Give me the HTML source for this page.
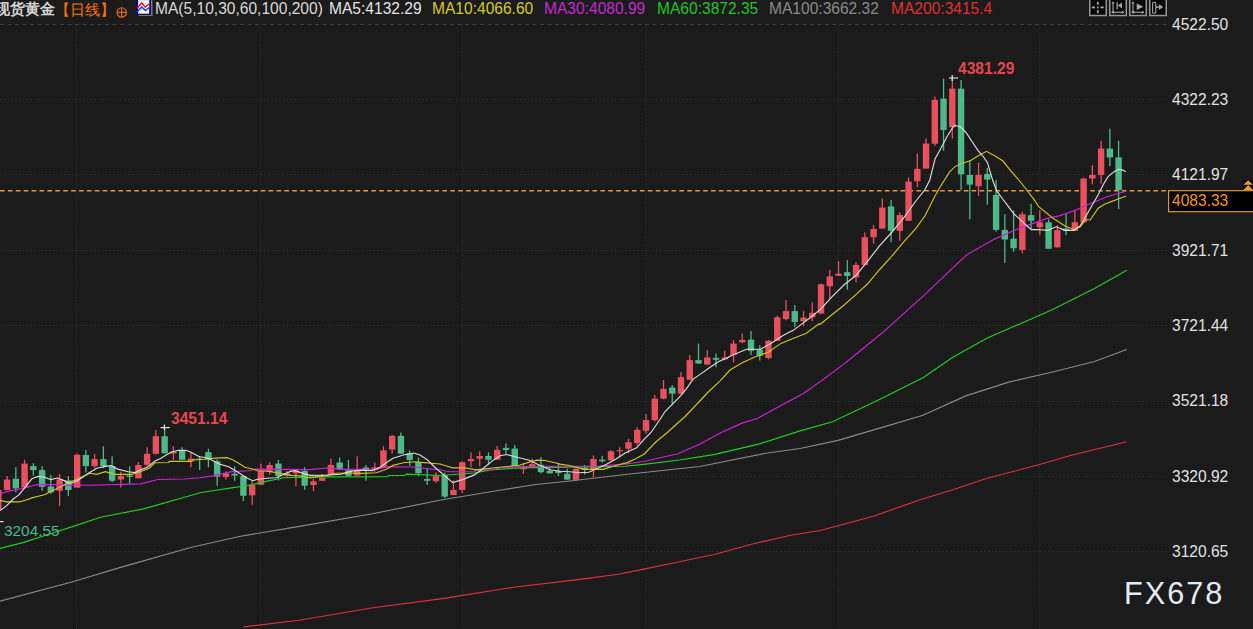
<!DOCTYPE html>
<html><head><meta charset="utf-8"><style>
html,body{margin:0;padding:0;background:#1b1b1b;width:1253px;height:629px;overflow:hidden}
body{position:relative;font-family:"Liberation Sans",sans-serif}
.t{position:absolute;white-space:nowrap;line-height:1}
</style></head><body>
<svg width="1253" height="629" viewBox="0 0 1253 629" style="position:absolute;left:0;top:0"><line x1="0" y1="24.5" x2="1167" y2="24.5" stroke="#3c3c3c" stroke-width="1" stroke-dasharray="4 3.5"/><line x1="0" y1="99.5" x2="1167" y2="99.5" stroke="#2e2e2e" stroke-width="1" stroke-dasharray="1.6 2.17"/><line x1="0" y1="174.5" x2="1167" y2="174.5" stroke="#2e2e2e" stroke-width="1" stroke-dasharray="1.6 2.17"/><line x1="0" y1="250.5" x2="1167" y2="250.5" stroke="#2e2e2e" stroke-width="1" stroke-dasharray="1.6 2.17"/><line x1="0" y1="325.5" x2="1167" y2="325.5" stroke="#2e2e2e" stroke-width="1" stroke-dasharray="1.6 2.17"/><line x1="0" y1="401.5" x2="1167" y2="401.5" stroke="#2e2e2e" stroke-width="1" stroke-dasharray="1.6 2.17"/><line x1="0" y1="476.5" x2="1167" y2="476.5" stroke="#2e2e2e" stroke-width="1" stroke-dasharray="1.6 2.17"/><line x1="0" y1="551.5" x2="1167" y2="551.5" stroke="#2e2e2e" stroke-width="1" stroke-dasharray="1.6 2.17"/><line x1="76.5" y1="25" x2="76.5" y2="629" stroke="#2c2c2c" stroke-width="1" stroke-dasharray="1.6 2.17"/><line x1="260.5" y1="25" x2="260.5" y2="629" stroke="#2c2c2c" stroke-width="1" stroke-dasharray="1.6 2.17"/><line x1="462.5" y1="25" x2="462.5" y2="629" stroke="#2c2c2c" stroke-width="1" stroke-dasharray="1.6 2.17"/><line x1="646" y1="25" x2="646" y2="629" stroke="#2c2c2c" stroke-width="1" stroke-dasharray="1.6 2.17"/><line x1="838.5" y1="25" x2="838.5" y2="629" stroke="#2c2c2c" stroke-width="1" stroke-dasharray="1.6 2.17"/><line x1="1039.5" y1="25" x2="1039.5" y2="629" stroke="#2c2c2c" stroke-width="1" stroke-dasharray="1.6 2.17"/><line x1="0" y1="190.7" x2="1168" y2="190.7" stroke="#f0962a" stroke-width="1.6" stroke-dasharray="4.6 3.3"/><rect x="-2.3" y="490" width="1.3" height="21" fill="#e9505e"/><rect x="-4.85" y="490" width="6.4" height="20" fill="#e9505e"/><rect x="6.45" y="476" width="1.3" height="14" fill="#e9505e"/><rect x="3.9" y="479.6" width="6.4" height="10.4" fill="#e9505e"/><rect x="15.2" y="467.2" width="1.3" height="25.1" fill="#4db889"/><rect x="12.65" y="478.8" width="6.4" height="9.6" fill="#4db889"/><rect x="23.95" y="459.8" width="1.3" height="29.4" fill="#e9505e"/><rect x="21.4" y="463.7" width="6.4" height="23.9" fill="#e9505e"/><rect x="32.71" y="463.2" width="1.3" height="12.5" fill="#4db889"/><rect x="30.16" y="466.1" width="6.4" height="4" fill="#4db889"/><rect x="41.46" y="466.1" width="1.3" height="24.7" fill="#4db889"/><rect x="38.91" y="470.1" width="6.4" height="16.7" fill="#4db889"/><rect x="50.21" y="474.9" width="1.3" height="19" fill="#4db889"/><rect x="47.66" y="486.5" width="6.4" height="5.8" fill="#4db889"/><rect x="58.96" y="474" width="1.3" height="31.9" fill="#e9505e"/><rect x="56.41" y="479.6" width="6.4" height="11.2" fill="#e9505e"/><rect x="67.71" y="476" width="1.3" height="20" fill="#4db889"/><rect x="65.16" y="480.4" width="6.4" height="9.6" fill="#4db889"/><rect x="76.47" y="453.4" width="1.3" height="34.2" fill="#e9505e"/><rect x="73.92" y="454.7" width="6.4" height="32.9" fill="#e9505e"/><rect x="85.22" y="449.9" width="1.3" height="22.6" fill="#4db889"/><rect x="82.67" y="455" width="6.4" height="11.1" fill="#4db889"/><rect x="93.97" y="453.8" width="1.3" height="14.4" fill="#e9505e"/><rect x="91.42" y="459.1" width="6.4" height="7" fill="#e9505e"/><rect x="102.72" y="446.3" width="1.3" height="21.9" fill="#4db889"/><rect x="100.17" y="459.1" width="6.4" height="7" fill="#4db889"/><rect x="111.47" y="456.3" width="1.3" height="25.9" fill="#4db889"/><rect x="108.92" y="466.1" width="6.4" height="14.7" fill="#4db889"/><rect x="120.23" y="471.7" width="1.3" height="15.7" fill="#e9505e"/><rect x="117.68" y="476" width="6.4" height="3.5" fill="#e9505e"/><rect x="128.98" y="466.4" width="1.3" height="17.2" fill="#4db889"/><rect x="126.43" y="475.5" width="6.4" height="1.4" fill="#4db889"/><rect x="137.73" y="462" width="1.3" height="16.3" fill="#e9505e"/><rect x="135.18" y="465" width="6.4" height="13.3" fill="#e9505e"/><rect x="146.48" y="447.2" width="1.3" height="19.2" fill="#e9505e"/><rect x="143.93" y="453.8" width="6.4" height="10.9" fill="#e9505e"/><rect x="155.23" y="430.1" width="1.3" height="24.4" fill="#e9505e"/><rect x="152.68" y="436.2" width="6.4" height="17.6" fill="#e9505e"/><rect x="163.99" y="427.1" width="1.3" height="26.2" fill="#4db889"/><rect x="161.44" y="436.2" width="6.4" height="17.1" fill="#4db889"/><rect x="172.74" y="446.1" width="1.3" height="13.7" fill="#e9505e"/><rect x="170.19" y="451.5" width="6.4" height="2" fill="#e9505e"/><rect x="181.49" y="447.2" width="1.3" height="13.1" fill="#4db889"/><rect x="178.94" y="450.7" width="6.4" height="9.1" fill="#4db889"/><rect x="190.24" y="452.4" width="1.3" height="14.9" fill="#e9505e"/><rect x="187.69" y="458.6" width="6.4" height="2.9" fill="#e9505e"/><rect x="198.99" y="456" width="1.3" height="14" fill="#4db889"/><rect x="196.44" y="458.6" width="6.4" height="1.2" fill="#4db889"/><rect x="207.75" y="448.6" width="1.3" height="18.7" fill="#4db889"/><rect x="205.2" y="452.1" width="6.4" height="7.3" fill="#4db889"/><rect x="216.5" y="459.4" width="1.3" height="26.3" fill="#4db889"/><rect x="213.95" y="461.2" width="6.4" height="15.4" fill="#4db889"/><rect x="225.25" y="471.3" width="1.3" height="8.2" fill="#e9505e"/><rect x="222.7" y="473.4" width="6.4" height="3.5" fill="#e9505e"/><rect x="234" y="466.4" width="1.3" height="14.4" fill="#4db889"/><rect x="231.45" y="473.8" width="6.4" height="1.7" fill="#4db889"/><rect x="242.75" y="475.2" width="1.3" height="25.8" fill="#4db889"/><rect x="240.2" y="476" width="6.4" height="19.8" fill="#4db889"/><rect x="251.51" y="480.8" width="1.3" height="24.1" fill="#e9505e"/><rect x="248.96" y="484.8" width="6.4" height="10.5" fill="#e9505e"/><rect x="260.26" y="463.7" width="1.3" height="21.1" fill="#e9505e"/><rect x="257.71" y="470.8" width="6.4" height="14" fill="#e9505e"/><rect x="269.01" y="462.5" width="1.3" height="12.1" fill="#e9505e"/><rect x="266.46" y="465" width="6.4" height="5.9" fill="#e9505e"/><rect x="277.76" y="459.9" width="1.3" height="20.6" fill="#4db889"/><rect x="275.21" y="463.6" width="6.4" height="12.5" fill="#4db889"/><rect x="286.51" y="470.9" width="1.3" height="5.9" fill="#e9505e"/><rect x="283.96" y="473.4" width="6.4" height="2.4" fill="#e9505e"/><rect x="295.27" y="470.2" width="1.3" height="16.2" fill="#e9505e"/><rect x="292.72" y="470.9" width="6.4" height="2.5" fill="#e9505e"/><rect x="304.02" y="467.2" width="1.3" height="22.5" fill="#4db889"/><rect x="301.47" y="470.9" width="6.4" height="14.8" fill="#4db889"/><rect x="312.77" y="479" width="1.3" height="12.2" fill="#e9505e"/><rect x="310.22" y="481.3" width="6.4" height="3.7" fill="#e9505e"/><rect x="321.52" y="473.9" width="1.3" height="6.9" fill="#e9505e"/><rect x="318.97" y="477.9" width="6.4" height="2.9" fill="#e9505e"/><rect x="330.27" y="458.7" width="1.3" height="16.7" fill="#e9505e"/><rect x="327.72" y="465" width="6.4" height="9.6" fill="#e9505e"/><rect x="339.03" y="457.6" width="1.3" height="12.6" fill="#4db889"/><rect x="336.48" y="462.5" width="6.4" height="7" fill="#4db889"/><rect x="347.78" y="459.9" width="1.3" height="16.2" fill="#4db889"/><rect x="345.23" y="470.2" width="6.4" height="5.6" fill="#4db889"/><rect x="356.53" y="456.2" width="1.3" height="19.6" fill="#e9505e"/><rect x="353.98" y="470.2" width="6.4" height="5.2" fill="#e9505e"/><rect x="365.28" y="465" width="1.3" height="15.8" fill="#4db889"/><rect x="362.73" y="467.5" width="6.4" height="3.4" fill="#4db889"/><rect x="374.03" y="462.5" width="1.3" height="9.2" fill="#e9505e"/><rect x="371.48" y="467.5" width="6.4" height="2.7" fill="#e9505e"/><rect x="382.79" y="446.3" width="1.3" height="21.7" fill="#e9505e"/><rect x="380.24" y="450.3" width="6.4" height="17.7" fill="#e9505e"/><rect x="391.54" y="434.8" width="1.3" height="18.9" fill="#e9505e"/><rect x="388.99" y="435.9" width="6.4" height="13.6" fill="#e9505e"/><rect x="400.29" y="432.5" width="1.3" height="21.2" fill="#4db889"/><rect x="397.74" y="435.9" width="6.4" height="17.8" fill="#4db889"/><rect x="409.04" y="450.3" width="1.3" height="15.5" fill="#4db889"/><rect x="406.49" y="453.2" width="6.4" height="6.7" fill="#4db889"/><rect x="417.79" y="457.6" width="1.3" height="18.5" fill="#4db889"/><rect x="415.24" y="462.1" width="6.4" height="11.1" fill="#4db889"/><rect x="426.55" y="468.7" width="1.3" height="16.3" fill="#4db889"/><rect x="424" y="479" width="6.4" height="1.8" fill="#4db889"/><rect x="435.3" y="472.4" width="1.3" height="10.3" fill="#e9505e"/><rect x="432.75" y="476.1" width="6.4" height="5.2" fill="#e9505e"/><rect x="444.05" y="472.5" width="1.3" height="25.6" fill="#4db889"/><rect x="441.5" y="475.2" width="6.4" height="21.4" fill="#4db889"/><rect x="452.8" y="480.4" width="1.3" height="14.7" fill="#e9505e"/><rect x="450.25" y="490" width="6.4" height="5.1" fill="#e9505e"/><rect x="461.55" y="461.2" width="1.3" height="31.7" fill="#e9505e"/><rect x="459" y="462.2" width="6.4" height="27.8" fill="#e9505e"/><rect x="470.31" y="452.3" width="1.3" height="14.8" fill="#e9505e"/><rect x="467.76" y="459" width="6.4" height="2.2" fill="#e9505e"/><rect x="479.06" y="451.3" width="1.3" height="15" fill="#e9505e"/><rect x="476.51" y="456" width="6.4" height="2.7" fill="#e9505e"/><rect x="487.81" y="452.3" width="1.3" height="12.6" fill="#4db889"/><rect x="485.26" y="456" width="6.4" height="3.7" fill="#4db889"/><rect x="496.56" y="446" width="1.3" height="13.7" fill="#e9505e"/><rect x="494.01" y="449.8" width="6.4" height="9.9" fill="#e9505e"/><rect x="505.31" y="443.5" width="1.3" height="10.3" fill="#4db889"/><rect x="502.76" y="447.9" width="6.4" height="2.2" fill="#4db889"/><rect x="514.07" y="444.9" width="1.3" height="21.1" fill="#4db889"/><rect x="511.52" y="448.6" width="6.4" height="17.4" fill="#4db889"/><rect x="522.82" y="462.6" width="1.3" height="11.1" fill="#e9505e"/><rect x="520.27" y="467.8" width="6.4" height="1.5" fill="#e9505e"/><rect x="531.57" y="458.7" width="1.3" height="7.6" fill="#e9505e"/><rect x="529.02" y="464.1" width="6.4" height="2.2" fill="#e9505e"/><rect x="540.32" y="457.2" width="1.3" height="16.2" fill="#4db889"/><rect x="537.77" y="464.9" width="6.4" height="7.3" fill="#4db889"/><rect x="549.07" y="467.8" width="1.3" height="5.6" fill="#4db889"/><rect x="546.52" y="470.8" width="6.4" height="2.6" fill="#4db889"/><rect x="557.83" y="463.4" width="1.3" height="12.5" fill="#4db889"/><rect x="555.28" y="470.8" width="6.4" height="2.2" fill="#4db889"/><rect x="566.58" y="468.6" width="1.3" height="11" fill="#4db889"/><rect x="564.03" y="473.7" width="6.4" height="5.9" fill="#4db889"/><rect x="575.33" y="467.8" width="1.3" height="13.3" fill="#e9505e"/><rect x="572.78" y="469" width="6.4" height="10.9" fill="#e9505e"/><rect x="584.08" y="464.9" width="1.3" height="9.6" fill="#4db889"/><rect x="581.53" y="467.8" width="6.4" height="2.2" fill="#4db889"/><rect x="592.83" y="455.3" width="1.3" height="22.1" fill="#e9505e"/><rect x="590.28" y="459" width="6.4" height="11" fill="#e9505e"/><rect x="601.59" y="456" width="1.3" height="6.6" fill="#4db889"/><rect x="599.04" y="459.7" width="6.4" height="1.5" fill="#4db889"/><rect x="610.34" y="450.1" width="1.3" height="10.3" fill="#e9505e"/><rect x="607.79" y="451.3" width="6.4" height="9.1" fill="#e9505e"/><rect x="619.09" y="447.2" width="1.3" height="10.1" fill="#e9505e"/><rect x="616.54" y="450.1" width="6.4" height="1.2" fill="#e9505e"/><rect x="627.84" y="438.7" width="1.3" height="14.3" fill="#e9505e"/><rect x="625.29" y="442.2" width="6.4" height="6.5" fill="#e9505e"/><rect x="636.59" y="427.2" width="1.3" height="18.3" fill="#e9505e"/><rect x="634.04" y="429.8" width="6.4" height="13.1" fill="#e9505e"/><rect x="645.35" y="414" width="1.3" height="19.6" fill="#e9505e"/><rect x="642.8" y="420.1" width="6.4" height="10.7" fill="#e9505e"/><rect x="654.1" y="395" width="1.3" height="26.5" fill="#e9505e"/><rect x="651.55" y="398.6" width="6.4" height="21.5" fill="#e9505e"/><rect x="662.85" y="380.1" width="1.3" height="19.2" fill="#e9505e"/><rect x="660.3" y="388.8" width="6.4" height="9.8" fill="#e9505e"/><rect x="671.6" y="385" width="1.3" height="19.7" fill="#4db889"/><rect x="669.05" y="387.5" width="6.4" height="6.1" fill="#4db889"/><rect x="680.35" y="372.2" width="1.3" height="22.2" fill="#e9505e"/><rect x="677.8" y="377.2" width="6.4" height="16.4" fill="#e9505e"/><rect x="689.11" y="355" width="1.3" height="24.8" fill="#e9505e"/><rect x="686.56" y="360.1" width="6.4" height="19.7" fill="#e9505e"/><rect x="697.86" y="343.6" width="1.3" height="20" fill="#4db889"/><rect x="695.31" y="360.1" width="6.4" height="3.5" fill="#4db889"/><rect x="706.61" y="350" width="1.3" height="14.6" fill="#e9505e"/><rect x="704.06" y="357.5" width="6.4" height="7.1" fill="#e9505e"/><rect x="715.36" y="353.6" width="1.3" height="13.6" fill="#4db889"/><rect x="712.81" y="357.9" width="6.4" height="1.9" fill="#4db889"/><rect x="724.11" y="350.8" width="1.3" height="8.5" fill="#e9505e"/><rect x="721.56" y="357.5" width="6.4" height="1.8" fill="#e9505e"/><rect x="732.87" y="340" width="1.3" height="22.6" fill="#e9505e"/><rect x="730.32" y="343.6" width="6.4" height="11.4" fill="#e9505e"/><rect x="741.62" y="333.6" width="1.3" height="9.6" fill="#e9505e"/><rect x="739.07" y="340" width="6.4" height="2.2" fill="#e9505e"/><rect x="750.37" y="331.1" width="1.3" height="23.9" fill="#4db889"/><rect x="747.82" y="339.7" width="6.4" height="11.1" fill="#4db889"/><rect x="759.12" y="345" width="1.3" height="15.5" fill="#4db889"/><rect x="756.57" y="349.8" width="6.4" height="6" fill="#4db889"/><rect x="767.87" y="339.7" width="1.3" height="19.6" fill="#e9505e"/><rect x="765.32" y="340.8" width="6.4" height="17.3" fill="#e9505e"/><rect x="776.63" y="315.8" width="1.3" height="25" fill="#e9505e"/><rect x="774.08" y="317.2" width="6.4" height="23.6" fill="#e9505e"/><rect x="785.38" y="300" width="1.3" height="20.1" fill="#e9505e"/><rect x="782.83" y="311.1" width="6.4" height="8" fill="#e9505e"/><rect x="794.13" y="305.1" width="1.3" height="22.1" fill="#4db889"/><rect x="791.58" y="311.1" width="6.4" height="10.8" fill="#4db889"/><rect x="802.88" y="311.1" width="1.3" height="14.7" fill="#e9505e"/><rect x="800.33" y="317.6" width="6.4" height="3.5" fill="#e9505e"/><rect x="811.63" y="302.5" width="1.3" height="18.6" fill="#e9505e"/><rect x="809.08" y="312.9" width="6.4" height="4.3" fill="#e9505e"/><rect x="820.39" y="283.6" width="1.3" height="30" fill="#e9505e"/><rect x="817.84" y="284.3" width="6.4" height="29.3" fill="#e9505e"/><rect x="829.14" y="270" width="1.3" height="28.6" fill="#e9505e"/><rect x="826.59" y="276.4" width="6.4" height="9.8" fill="#e9505e"/><rect x="837.89" y="261.1" width="1.3" height="14.7" fill="#e9505e"/><rect x="835.34" y="273.7" width="6.4" height="2.1" fill="#e9505e"/><rect x="846.64" y="260.1" width="1.3" height="29.6" fill="#4db889"/><rect x="844.09" y="272.2" width="6.4" height="3.8" fill="#4db889"/><rect x="855.39" y="262.3" width="1.3" height="20" fill="#e9505e"/><rect x="852.84" y="264.9" width="6.4" height="12.4" fill="#e9505e"/><rect x="864.15" y="232.5" width="1.3" height="32.4" fill="#e9505e"/><rect x="861.6" y="237.2" width="6.4" height="27.7" fill="#e9505e"/><rect x="872.9" y="225" width="1.3" height="18.6" fill="#e9505e"/><rect x="870.35" y="229" width="6.4" height="8.2" fill="#e9505e"/><rect x="881.65" y="198.6" width="1.3" height="30" fill="#e9505e"/><rect x="879.1" y="207.6" width="6.4" height="21" fill="#e9505e"/><rect x="890.4" y="200" width="1.3" height="42.2" fill="#4db889"/><rect x="887.85" y="206.4" width="6.4" height="24.4" fill="#4db889"/><rect x="899.15" y="212.2" width="1.3" height="28.6" fill="#e9505e"/><rect x="896.6" y="215" width="6.4" height="15.8" fill="#e9505e"/><rect x="907.91" y="177.5" width="1.3" height="43.3" fill="#e9505e"/><rect x="905.36" y="181.5" width="6.4" height="39.3" fill="#e9505e"/><rect x="916.66" y="153.6" width="1.3" height="33.6" fill="#e9505e"/><rect x="914.11" y="168.9" width="6.4" height="12.3" fill="#e9505e"/><rect x="925.41" y="138.7" width="1.3" height="29.9" fill="#e9505e"/><rect x="922.86" y="143.6" width="6.4" height="25" fill="#e9505e"/><rect x="934.16" y="96.5" width="1.3" height="49.3" fill="#e9505e"/><rect x="931.61" y="100" width="6.4" height="43.7" fill="#e9505e"/><rect x="942.91" y="78.6" width="1.3" height="72.1" fill="#4db889"/><rect x="940.36" y="98.6" width="6.4" height="31.5" fill="#4db889"/><rect x="951.67" y="78.6" width="1.3" height="60.1" fill="#e9505e"/><rect x="949.12" y="88.6" width="6.4" height="38.6" fill="#e9505e"/><rect x="960.42" y="80" width="1.3" height="110" fill="#4db889"/><rect x="957.87" y="88.6" width="6.4" height="85.7" fill="#4db889"/><rect x="969.17" y="160" width="1.3" height="59.4" fill="#4db889"/><rect x="966.62" y="175" width="6.4" height="9.6" fill="#4db889"/><rect x="977.92" y="162.6" width="1.3" height="33.2" fill="#e9505e"/><rect x="975.37" y="174.9" width="6.4" height="11.3" fill="#e9505e"/><rect x="986.67" y="167.9" width="1.3" height="36.7" fill="#4db889"/><rect x="984.12" y="174" width="6.4" height="5.6" fill="#4db889"/><rect x="995.43" y="180.1" width="1.3" height="51.6" fill="#4db889"/><rect x="992.88" y="195" width="6.4" height="34.9" fill="#4db889"/><rect x="1004.18" y="214.2" width="1.3" height="48.9" fill="#4db889"/><rect x="1001.63" y="229.9" width="6.4" height="9.6" fill="#4db889"/><rect x="1012.93" y="210.7" width="1.3" height="41.1" fill="#4db889"/><rect x="1010.38" y="238.7" width="6.4" height="9.6" fill="#4db889"/><rect x="1021.68" y="211.6" width="1.3" height="41.9" fill="#e9505e"/><rect x="1019.13" y="214.2" width="6.4" height="35.8" fill="#e9505e"/><rect x="1030.43" y="203.7" width="1.3" height="25.4" fill="#4db889"/><rect x="1027.88" y="215.1" width="6.4" height="5.7" fill="#4db889"/><rect x="1039.19" y="210.1" width="1.3" height="25.1" fill="#e9505e"/><rect x="1036.64" y="222.3" width="6.4" height="5" fill="#e9505e"/><rect x="1047.94" y="219.4" width="1.3" height="29.4" fill="#4db889"/><rect x="1045.39" y="222.3" width="6.4" height="26.5" fill="#4db889"/><rect x="1056.69" y="225.2" width="1.3" height="22.2" fill="#e9505e"/><rect x="1054.14" y="230.2" width="6.4" height="17.2" fill="#e9505e"/><rect x="1065.44" y="213" width="1.3" height="22.2" fill="#4db889"/><rect x="1062.89" y="228.5" width="6.4" height="2.4" fill="#4db889"/><rect x="1074.19" y="210.1" width="1.3" height="20.8" fill="#e9505e"/><rect x="1071.64" y="222.3" width="6.4" height="8.6" fill="#e9505e"/><rect x="1082.95" y="177.4" width="1.3" height="44.9" fill="#e9505e"/><rect x="1080.4" y="178.6" width="6.4" height="43.7" fill="#e9505e"/><rect x="1091.7" y="165.3" width="1.3" height="19.1" fill="#e9505e"/><rect x="1089.15" y="175" width="6.4" height="3.5" fill="#e9505e"/><rect x="1100.45" y="140.7" width="1.3" height="42.9" fill="#e9505e"/><rect x="1097.9" y="148.6" width="6.4" height="26.3" fill="#e9505e"/><rect x="1109.2" y="128.7" width="1.3" height="37.4" fill="#4db889"/><rect x="1106.65" y="148.6" width="6.4" height="8.8" fill="#4db889"/><rect x="1117.95" y="140.7" width="1.3" height="68.3" fill="#4db889"/><rect x="1115.4" y="157.4" width="6.4" height="32.6" fill="#4db889"/><polyline points="243,627 299.3,620.2 371.2,608 442.3,598.6 513.5,587.2 580,579.4 618.3,574.2 645.1,568.9 675.8,562.5 714.1,554.5 752.4,544 790.7,535.3 820,530.5 838,525.8 873.3,516.3 919.4,500 952,490 987.2,478.3 1038.8,464.8 1071.4,455.3 1126.7,441.8" fill="none" stroke="#e03434" stroke-width="1.15"/><polyline points="0,601.1 71.8,582 119.7,567.6 191.5,547.2 239.4,536.5 299.3,526.4 371.2,514 442.3,499.8 501.3,490 535.8,484.5 567.7,481.3 600,477.5 625,474.5 699.7,466.5 766,453.2 800,448.5 838,440.4 881.4,427.6 922.9,415.2 965.8,395.9 1008.7,382.1 1051.6,372.3 1094.5,361.5 1126.7,349.5" fill="none" stroke="#8a8a8a" stroke-width="1.15"/><polyline points="0,548.4 23.9,542.4 47.9,534.5 71.8,526.9 100.5,517.3 143.6,508.9 191.5,495.3 200,492.7 212.5,490.8 231.6,487.9 247.9,485.5 262.3,482.1 276.6,479.3 283.3,477.8 320,476.9 386.8,476.8 388.9,475.5 404.4,475.5 406.5,474.2 440,475.5 457.9,474.3 474.5,473 483.4,471.1 492.4,469.8 501.3,469.2 519.2,467.9 600,466.6 625,466.3 643.6,464.4 679.7,460 715,454.4 759.5,443.9 800,430.9 832.6,421.7 880,399.3 922.9,377.8 952.9,357.3 987.3,338 1051.6,310 1094.5,288.6 1126.7,270.2" fill="none" stroke="#20d020" stroke-width="1.15"/><polyline points="0,494 6.4,491.6 19.1,489.2 31.8,486 38.2,484.4 90,485.2 140.4,483.9 157.9,479.5 184.2,479 200,477.8 212.5,475.9 231.6,471.6 247.9,470.7 256.5,469.2 310,469.6 326.6,468 344.2,469.4 377.4,469.1 387.8,466.8 413.8,467 431.4,469.1 440,469.8 448.9,471.7 474.5,471.7 475.8,470.4 492.4,469.8 500,467.9 519.2,466.6 600,466 625,464.1 643.6,461.5 677.9,453.7 700,444 720.7,432.7 741.3,423.4 757.9,418.2 778.6,406.8 803.4,393.4 824,378.9 844.7,363.4 860,351 884,331.4 925.3,294.2 960,261.2 967,254.6 994.1,239.2 1021.1,227.6 1048.1,218.1 1060,215.6 1075.9,210 1091.8,203 1107.7,196.5 1126,191.2" fill="none" stroke="#d41ee0" stroke-width="1.15"/><polyline points="0,500.3 6.4,501.9 19.1,501.9 25.4,500.3 31.8,497.9 38.2,496.3 44.5,494.7 50.9,491.6 57.2,488.4 63.6,485.2 70,482 76.3,479.6 82.7,476.4 90,473.3 96.7,474.3 105.5,471.7 114.2,474.3 131.7,474.3 140.4,471.7 149.2,468.2 155,462.8 168.9,462.5 169.1,461.4 191.2,461.4 192.8,460 204,459.2 215,458.1 226.8,457.7 231.6,459.2 238.3,463 245,467.3 253.6,469.2 257.5,470.7 267,471.1 273.8,472.1 281.4,473.5 291,475.4 299.6,475.9 310,477.9 325.6,475.8 335.9,473.2 351.5,473 361.9,473.4 376.4,472.7 386.8,469 393,465.4 403.4,462.8 413.8,461.8 424.1,462.6 440,464 446.4,466 452.8,467.9 465.5,467.9 475.8,469.8 500,467.2 519.2,465.3 529.4,462.1 537.1,460.2 544.7,460.5 555,462.8 560,464.1 569.6,465.5 584,469.3 603.1,469.3 617.5,465 627.1,462.6 636.6,458.3 644.3,454 655.8,442 667.3,432.5 680,421 685.1,416.5 700.8,400 707.2,393 720.1,380.8 730,370 742.7,362.5 755.4,356.8 768.2,352.3 780.9,343.4 793.6,338.3 806.3,333.3 819.1,323.7 820,324.4 831.9,314.8 843.9,305.3 855.8,294.6 867.7,283.8 879.7,269.5 891.6,256.4 903.5,242.1 915.5,228.9 925,215.8 934.6,196.7 940,187.2 949.4,172.2 955,166.6 960.7,163.7 970.3,160.8 977.9,156 986.5,151.3 995.1,156 1002.7,160.8 1010.4,170.4 1018,179 1025.6,188.5 1035,200.9 1038.7,206.7 1047.5,213.7 1052.7,218.1 1065,226 1073.7,229.5 1080,227 1086,219.5 1090.2,220 1098.2,208.2 1104.5,204.3 1112.5,201.1 1118.8,198.7 1126,196.3" fill="none" stroke="#cdc41e" stroke-width="1.15"/><polyline points="0,510.6 6.4,505.9 12.7,499.5 19.1,494.7 25.4,486.8 31.8,478.8 38.2,476.4 44.5,477.2 50.9,479.6 57.2,478 63.6,480.4 70,483.6 76.3,481.2 82.7,477.2 88,473.4 96.7,468.2 105.5,466.4 110.7,465.6 117.7,469.1 128.2,471.7 135.2,472.6 140.4,469.9 147.4,467.3 155,461.1 160.6,458.4 166.1,455 171.7,452 178.4,450.3 185.6,450.3 190.6,452 195.1,454.5 199.5,456.7 204,457.3 210.1,459.2 215,461.7 219.2,464 228.7,466.8 238.3,472.6 246,477.4 252.7,480.7 257.5,479.3 267,478.3 276.6,477.8 283.3,474.5 291,471.1 295.8,470.7 300.6,472.6 310.2,475.4 325.6,475.3 341.1,474.2 351.5,471.1 361.9,470.1 372.3,470.6 380.6,467 387.8,461.8 393,458.2 403.4,455 413.8,453 420,455 427.2,459.7 434.5,467 440,471.7 452.8,482.6 463,479.4 474.5,474.9 482.1,469.2 492.4,460.9 500,455.7 506.4,454.5 519.2,457.7 529.4,460.2 539.6,465.3 549.8,469.8 560,471.3 569.6,471.7 579.2,472.7 588.7,472.2 598.3,467.9 606,464.5 615.6,459.3 625.1,453 636.6,447.8 644.3,439.2 651,432.5 659.6,420 665.1,411.5 672.2,404.3 679.4,397.2 686.5,388.6 692.9,379.4 700.1,374.4 710.1,367.2 718.7,361.5 727.3,357.9 730,356.2 746.5,349.2 760.5,349.2 772,342.8 783.4,335.2 793.6,330.1 801.2,324.4 811.4,316.7 819,310.4 820,310 831.9,296.9 843.9,285 855.8,275.5 867.7,261.1 879.7,245.6 891.6,232.5 903.5,218.2 915.5,201.5 925,189.5 929.8,180 935.1,158.6 940.8,148.6 946.8,137 953.5,126.2 955,125.5 960.7,126.8 966.5,133.1 972.2,141.7 977.9,150.3 983.6,157 987.5,162.7 990.3,172.3 993.2,181.8 997,191.4 1002.7,199 1008.5,206.6 1014.2,214.3 1019.9,219.1 1025.6,224.8 1031.4,229.6 1038.7,229.5 1047.5,230.3 1056.2,226.8 1065,230.3 1073.7,230.3 1080,226 1083.8,220 1091.8,205.8 1098.2,194.7 1102.9,185.2 1107.7,177.2 1110.9,174.1 1114.8,171.2 1118.8,169.3 1122.8,170.1 1126,171.7" fill="none" stroke="#dcdcdc" stroke-width="1.15"/><line x1="949" y1="78" x2="958" y2="78" stroke="#e0e0e0" stroke-width="1.15"/><line x1="952.2" y1="75" x2="952.2" y2="81" stroke="#e0e0e0" stroke-width="1.3"/><line x1="160.5" y1="427.6" x2="169.8" y2="427.6" stroke="#e0e0e0" stroke-width="1.15"/><line x1="164.4" y1="424.5" x2="164.4" y2="430" stroke="#e0e0e0" stroke-width="1.3"/><line x1="0" y1="521.6" x2="3.6" y2="521.6" stroke="#e0e0e0" stroke-width="1.15"/><rect x="1168.6" y="190.7" width="90" height="21" fill="#000" stroke="#f0962a" stroke-width="1.15"/><rect x="1243" y="180" width="10" height="10" fill="#000"/><path d="M1243.3,184.8 L1248.2,180.2 L1253,184.8 Z M1243.3,190 L1248.2,185 L1253,190 Z" fill="#f0962a"/><rect x="138.5" y="14.6" width="14" height="1.4" fill="#777"/><rect x="150.9" y="0" width="1.6" height="16" fill="#777"/><rect x="136" y="-2" width="15" height="16.8" fill="#00007a"/><rect x="138.2" y="0" width="11" height="13.7" fill="#ffffff"/><rect x="138.2" y="0" width="11" height="0.9" fill="#dcdcf0"/><polyline points="137.1,8.3 141.7,2.9 145.4,7.2 148.6,4.3 150,4.3" fill="none" stroke="#ff1010" stroke-width="1.5"/><polyline points="137.1,12 141.7,6.9 145.4,10.6 148.6,8 150,8" fill="none" stroke="#2040ff" stroke-width="1.5"/><rect x="1089.75" y="-2" width="16.5" height="17.5" fill="#080808" stroke="#959595" stroke-width="1.5"/><rect x="1109.75" y="-2" width="16.5" height="17.5" fill="#080808" stroke="#959595" stroke-width="1.5"/><rect x="1129.75" y="-2" width="16.5" height="17.5" fill="#080808" stroke="#959595" stroke-width="1.5"/><rect x="1149.75" y="-2" width="16.5" height="17.5" fill="#080808" stroke="#959595" stroke-width="1.5"/><g fill="#a6a6a6"><rect x="1096.9" y="1.8" width="1.8" height="3"/><rect x="1096.9" y="10.2" width="1.8" height="3"/><rect x="1091.8" y="6.5" width="3.2" height="1.8"/><rect x="1100.5" y="6.5" width="3.2" height="1.8"/><rect x="1096.9" y="6.5" width="1.8" height="1.8"/></g><g stroke="#a6a6a6" stroke-width="1.1" fill="none"><line x1="1113" y1="2" x2="1113" y2="13"/><line x1="1112" y1="12.3" x2="1123.5" y2="12.3"/></g><path d="M1111.4,3.6 L1113,1.2 L1114.6,3.6Z M1111.4,11.2 L1113,13.8 L1114.6,11.2Z M1121.8,10.7 L1124.4,12.3 L1121.8,13.9Z M1113.8,10.7 L1111.2,12.3 L1113.8,13.9Z" fill="#a6a6a6"/><rect x="1116.5" y="2.3" width="1.3" height="7" fill="#a6a6a6"/><path d="M1122,2.5 L1118,5.6 L1122,8.6Z" fill="#a6a6a6"/><g stroke="#a6a6a6" stroke-width="1.1" fill="none"><line x1="1133" y1="2" x2="1133" y2="13"/><line x1="1132" y1="12.3" x2="1143.5" y2="12.3"/></g><path d="M1131.4,3.6 L1133,1.2 L1134.6,3.6Z M1131.4,11.2 L1133,13.8 L1134.6,11.2Z M1141.8,10.7 L1144.4,12.3 L1141.8,13.9Z M1133.8,10.7 L1131.2,12.3 L1133.8,13.9Z" fill="#a6a6a6"/><path d="M1136.7,3.5 L1143.3,6.8 L1136.7,10.1Z" fill="#a6a6a6"/><rect x="1152.6" y="2.2" width="3.2" height="11" rx="1" fill="none" stroke="#a6a6a6" stroke-width="1.1"/><rect x="1156" y="6.4" width="3.5" height="1.5" fill="#a6a6a6"/><path d="M1159,4.2 L1163.2,7.1 L1159,10Z" fill="#a6a6a6"/></svg>
<div class="t" style="left:-5px;top:2.17px;color:#d4d4d4;font-size:14.8px;font-weight:bold">现货黄金</div><div class="t" style="left:55px;top:2.97px;color:#ff7400;font-size:14.8px;">【日线】</div><div class="t" style="left:155px;top:1.04px;color:#d8d8d8;font-size:16.85px;transform:scaleX(0.924);transform-origin:0 0;">MA(5,10,30,60,100,200)</div><div class="t" style="left:328.5px;top:1.04px;color:#e4e4e4;font-size:16.85px;transform:scaleX(0.924);transform-origin:0 0;">MA5:4132.29</div><div class="t" style="left:432px;top:1.04px;color:#d2cc22;font-size:16.85px;transform:scaleX(0.924);transform-origin:0 0;">MA10:4066.60</div><div class="t" style="left:544px;top:1.04px;color:#c42ad0;font-size:16.85px;transform:scaleX(0.924);transform-origin:0 0;">MA30:4080.99</div><div class="t" style="left:656.5px;top:1.04px;color:#22c42a;font-size:16.85px;transform:scaleX(0.924);transform-origin:0 0;">MA60:3872.35</div><div class="t" style="left:769px;top:1.04px;color:#8a8a8a;font-size:16.85px;transform:scaleX(0.924);transform-origin:0 0;">MA100:3662.32</div><div class="t" style="left:890.5px;top:1.04px;color:#e03030;font-size:16.85px;transform:scaleX(0.924);transform-origin:0 0;">MA200:3415.4</div><svg class="t" style="left:114px;top:6px" width="16" height="14"><circle cx="7.7" cy="6.4" r="4.7" fill="none" stroke="#e06a10" stroke-width="1.15"/><line x1="7.7" y1="1.7" x2="7.7" y2="11.1" stroke="#e06a10" stroke-width="1.2"/><line x1="3" y1="6.4" x2="12.4" y2="6.4" stroke="#e06a10" stroke-width="1.2"/></svg><div class="t" style="left:1171.8px;top:15.60px;color:#e2e2e2;font-size:16.3px;transform:scaleX(0.956);transform-origin:0 0;">4522.50</div><div class="t" style="left:1171.8px;top:90.95px;color:#e2e2e2;font-size:16.3px;transform:scaleX(0.956);transform-origin:0 0;">4322.23</div><div class="t" style="left:1171.8px;top:166.30px;color:#e2e2e2;font-size:16.3px;transform:scaleX(0.956);transform-origin:0 0;">4121.97</div><div class="t" style="left:1171.8px;top:241.65px;color:#e2e2e2;font-size:16.3px;transform:scaleX(0.956);transform-origin:0 0;">3921.71</div><div class="t" style="left:1171.8px;top:317.00px;color:#e2e2e2;font-size:16.3px;transform:scaleX(0.956);transform-origin:0 0;">3721.44</div><div class="t" style="left:1171.8px;top:392.35px;color:#e2e2e2;font-size:16.3px;transform:scaleX(0.956);transform-origin:0 0;">3521.18</div><div class="t" style="left:1171.8px;top:467.70px;color:#e2e2e2;font-size:16.3px;transform:scaleX(0.956);transform-origin:0 0;">3320.92</div><div class="t" style="left:1171.8px;top:543.05px;color:#e2e2e2;font-size:16.3px;transform:scaleX(0.956);transform-origin:0 0;">3120.65</div><div class="t" style="left:1171.8px;top:192.30px;color:#f0962a;font-size:16.3px;transform:scaleX(0.956);transform-origin:0 0;">4083.33</div><div class="t" style="left:957.5px;top:59.92px;color:#e8474f;font-size:16.4px;transform:scaleX(0.95);transform-origin:0 0;font-weight:bold">4381.29</div><div class="t" style="left:170.5px;top:409.72px;color:#e8474f;font-size:16.4px;transform:scaleX(0.95);transform-origin:0 0;font-weight:bold">3451.14</div><div class="t" style="left:3.8px;top:523.67px;color:#4db889;font-size:14.8px;transform:scaleX(1.04);transform-origin:0 0;">3204.55</div><div class="t" style="left:1124px;top:578.05px;color:#e6ecf6;font-size:30.65px;letter-spacing:2px">FX678</div>
</body></html>
